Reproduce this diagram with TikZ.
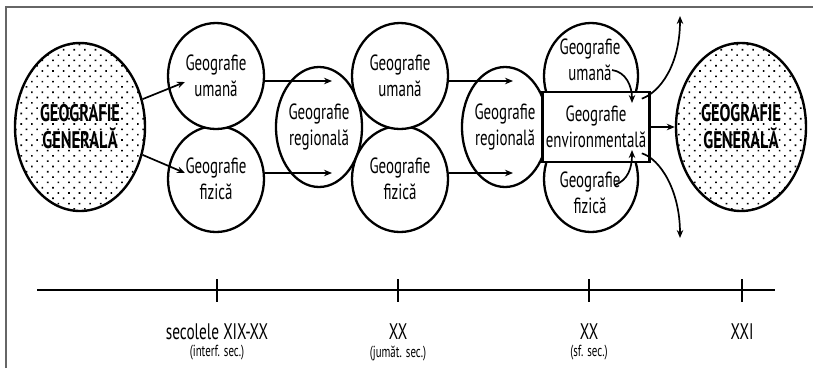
\documentclass[tikz,border=0pt]{standalone}
\usepackage{fontspec}
\setmainfont{PT Sans}[FakeStretch=0.68]
\usetikzlibrary{shapes.geometric,arrows.meta,patterns.meta}
\newcommand{\geo}{\fontsize{22}{25.5}\selectfont}

\tikzset{
  general/.style={ellipse,draw,line width=2.4pt,inner sep=0pt,
    minimum width=130pt,minimum height=168pt,align=center,
    pattern={Dots[distance=7.5pt,radius=1.15pt,angle=45]},
    font=\fontsize{24}{27}\selectfont\bfseries},
  circ/.style={ellipse,draw,fill=white,line width=2.3pt,inner sep=0pt,
    minimum width=96pt,minimum height=106pt,align=center,font=\geo},
  envbox/.style={draw,fill=white,line width=2.6pt,inner sep=0pt,
    minimum width=107pt,minimum height=70pt,align=center,font=\geo},
  txt/.style={align=center,font=\geo,inner sep=0pt},
  arr/.style={line width=1.7pt,-{Stealth[length=8pt,width=6.5pt]}},
  tick/.style={line width=2.6pt},
  lbl/.style={font=\fontsize{22.5}{24}\selectfont,inner sep=0pt},
  sub/.style={font=\fontsize{16}{18}\selectfont,inner sep=0pt}
}

\begin{document}
\begin{tikzpicture}[x=1pt,y=-1pt]
   \useasboundingbox (0,0) rectangle (813,368);
   % frame
   \draw[gray!80!black,line width=1.8pt] (6,368) -- (6,7) -- (813,7);

   % first column
   \node[general] (gg1) at (80,127) {GEOGRAFIE\\GENERALĂ};
   \node[circ] (fiz1) at (216,179) {Geografie\\fizică};
   \node[circ] (um1) at (216,76) {Geografie\\umană};
   \coordinate (p1) at (185,82);
   \coordinate (p2) at (185,173);
   \draw[arr] (gg1.24) -- (p1);
   \draw[arr] (gg1.-24) -- (p2);

   % second column
   \node[circ,minimum width=74pt,minimum height=120pt] (reg1) at (319,127) {Geografie\\regională};
   \coordinate (h1) at (332,81);
   \coordinate (h2) at (332,173);
   \draw[arr] (um1.east |- h1) -- (h1);
   \draw[arr] (fiz1.east |- h2) -- (h2);
   \node[circ] (fiz2) at (400,179) {Geografie\\fizică};
   \node[circ] (um2) at (400,76) {Geografie\\umană};

   % third column
   \node[circ,minimum width=86pt,minimum height=120pt] (reg2) at (505,127) {Geografie\\regională};
   \coordinate (h3) at (513,81);
   \coordinate (h4) at (513,173);
   \draw[arr] (um2.east |- h3) -- (h3);
   \draw[arr] (fiz2.east |- h4) -- (h4);

   % fourth column
   \node[circ,minimum width=94pt] (um3) at (591,76) {};
   \node[circ,minimum width=94pt] (fiz3) at (591,179) {};
   \node[envbox] (env) at (596,127) {Geografie\\environmentală};
   \node[txt] (tum3) at (590,60) {Geografie\\umană};
   \node[txt] (tfiz3) at (590,193) {Geografie\\fizică};
   \coordinate (i1) at (632,103);
   \coordinate (i2) at (632,150);
   \coordinate (o1) at (680,16);
   \coordinate (o2) at (680,238);
   \draw[arr] (612,70) .. controls (626,72) and (632,86) .. (i1);
   \draw[arr] (615,185) .. controls (628,180) and (632,168) .. (i2);
   \draw[arr] (env.north east) ++(-9,8) .. controls (660,92) and (680,65) .. (o1);
   \draw[arr] (env.south east) ++(-9,-10) .. controls (660,159) and (680,190) .. (o2);

   \node[general] (gg2) at (741,127) {GEOGRAFIE\\GENERALĂ};
   \draw[arr] (env.east) -- (gg2.west);

   % time axis
   \coordinate (ta) at (37,290);
   \coordinate (tb) at (775,290);
   \draw[line width=2.2pt] (ta) -- (tb);
   \foreach \x/\n in {217/s1,398/s2,589/s3,742/s4}
      \draw[tick] (\x,279) coordinate (\n) -- (\x,302);
   \node[lbl] (l1) at (217,332) {secolele XIX-XX};
   \node[sub] (m1) at (217,353) {(interf. sec.)};
   \node[lbl] (l2) at (398,332) {XX};
   \node[sub] (m2) at (398,353) {(jumăt. sec.)};
   \node[lbl] (l3) at (589,332) {XX};
   \node[sub] (m3) at (589,353) {(sf. sec.)};
   \node[lbl] (l4) at (742,332) {XXI};
\end{tikzpicture}
\end{document}
